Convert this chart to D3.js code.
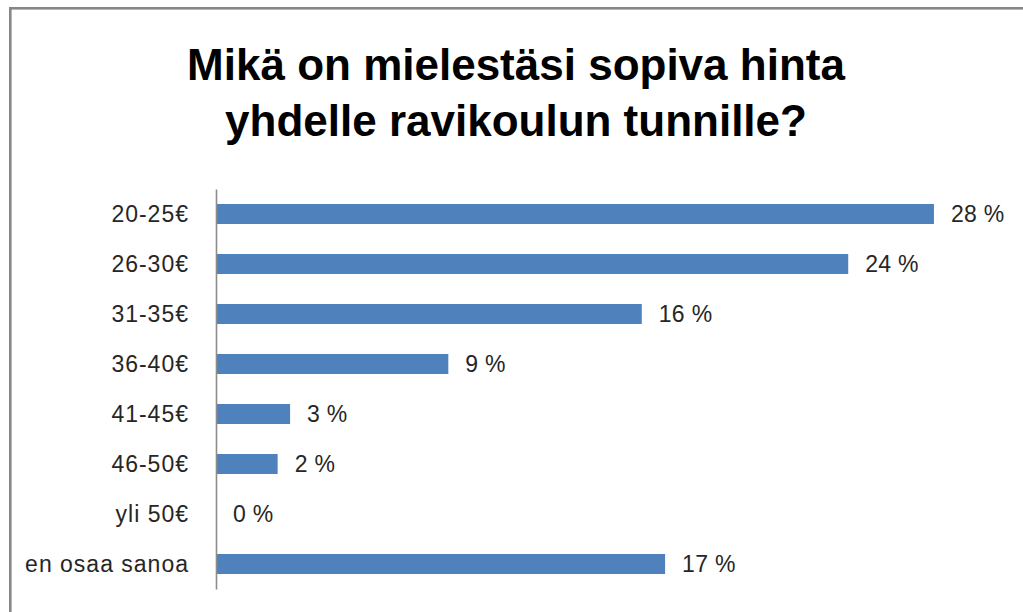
<!DOCTYPE html>
<html>
<head>
<meta charset="utf-8">
<script src="https://cdn.jsdelivr.net/npm/d3@7"></script>
<style>
  html, body { margin: 0; padding: 0; background: #fff; }
  svg { display: block; }
</style>
</head>
<body>
<svg id="chart" width="1023" height="612"></svg>
<script>
const titleLines = ["Mikä on mielestäsi sopiva hinta", "yhdelle ravikoulun tunnille?"];
const categories = ["20-25€", "26-30€", "31-35€", "36-40€", "41-45€", "46-50€", "yli 50€", "en osaa sanoa"];
const values = [27.72, 24.41, 16.44, 8.97, 2.86, 2.38, 0, 17.34];
const valueLabels = ["28 %", "24 %", "16 %", "9 %", "3 %", "2 %", "0 %", "17 %"];

const svg = d3.select("#chart");
const W = 1023, H = 612;

svg.append("rect").attr("x", 0).attr("y", 0).attr("width", W).attr("height", H).attr("fill", "#fff");

// outer chart border (extends past right/bottom edges)
svg.append("rect")
  .attr("x", 10.3).attr("y", 8.3)
  .attr("width", W + 20).attr("height", H + 20)
  .attr("fill", "none")
  .attr("stroke", "#878787")
  .attr("stroke-width", 2.6);

// title
const title = svg.append("text")
  .attr("text-anchor", "middle")
  .attr("font-family", "'Liberation Sans', Arial, sans-serif")
  .attr("font-weight", "bold")
  .attr("font-size", 44)
  .attr("fill", "#000");
titleLines.forEach((t, i) => {
  title.append("tspan").attr("x", 516).attr("y", 80 + i * 56).text(t);
});

const x = d3.scaleLinear().domain([0, 30]).range([216, 216 + 30 * 25.9]);
const y = d3.scaleBand().domain(categories).range([189, 589]).paddingInner(0.6).paddingOuter(0.3);

const fontFam = "'Liberation Sans', Arial, sans-serif";

// bars
svg.append("g").selectAll("rect")
  .data(categories)
  .join("rect")
  .attr("x", x(0))
  .attr("y", d => y(d))
  .attr("width", (d, i) => x(values[i]) - x(0))
  .attr("height", y.bandwidth())
  .attr("fill", "#4F81BD");

// value labels
svg.append("g").selectAll("text")
  .data(categories)
  .join("text")
  .attr("x", (d, i) => x(values[i]) + 17)
  .attr("y", d => y(d) + y.bandwidth() / 2)
  .attr("dy", "0.36em")
  .attr("font-family", fontFam)
  .attr("font-size", 23)
  .attr("letter-spacing", 0.3)
  .attr("fill", "#262626")
  .text((d, i) => valueLabels[i]);

// category axis
const axis = d3.axisLeft(y).tickSize(0).tickSizeOuter(0).tickPadding(27);
const gA = svg.append("g").attr("transform", `translate(${x(0)},0)`).call(axis);
gA.select(".domain").attr("stroke", "#8c8c8c").attr("stroke-width", 1.6);
gA.selectAll("text")
  .attr("font-family", fontFam)
  .attr("font-size", 23)
  .attr("letter-spacing", 1)
  .attr("fill", "#262626")
  .attr("dy", "0.36em");
</script>
</body>
</html>
